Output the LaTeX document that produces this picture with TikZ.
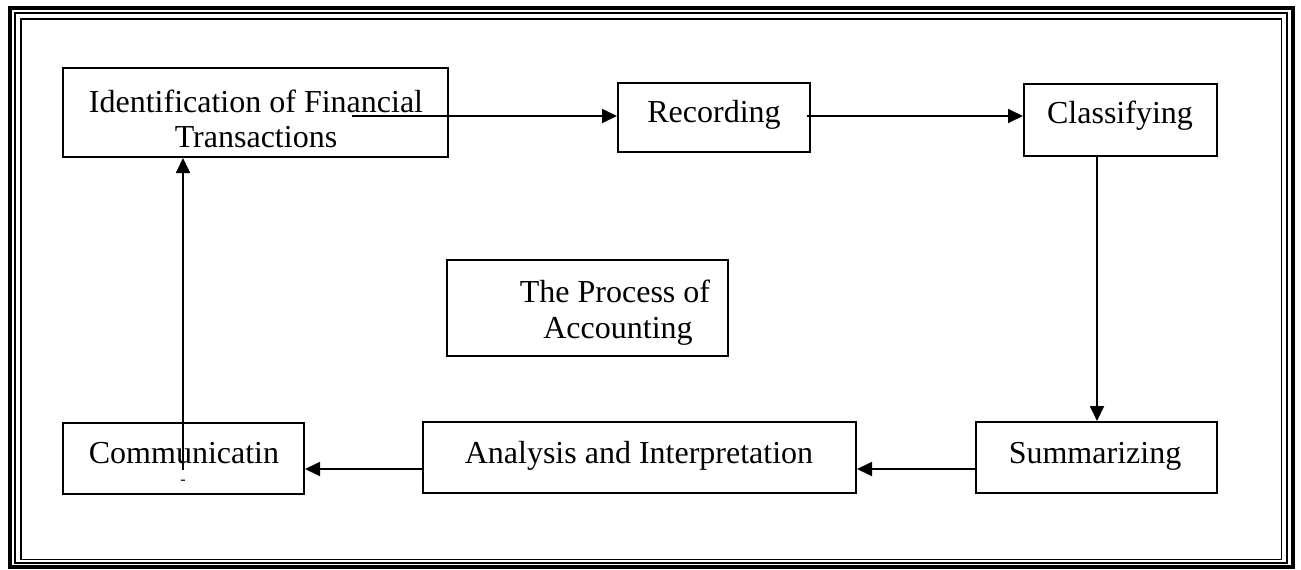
\documentclass[tikz,border=0pt]{standalone}
\usepackage{fontspec}
\setmainfont{Liberation Serif}
\usetikzlibrary{arrows.meta,calc}
\begin{document}
\begin{tikzpicture}[x=0.5pt,y=-0.5pt,
  boxnode/.style={draw=black,line width=1pt,inner sep=0pt,rectangle},
  txt/.style={anchor=base,inner sep=0pt,font=\fontsize{16}{18.4}\selectfont},
  arr/.style={draw=black,line width=0.9pt,-{Triangle[length=7.5pt,width=7pt]}},
  plain/.style={draw=black,line width=0.9pt}]
\useasboundingbox (0,0) rectangle (1301,569);
% triple frame
\draw[line width=2.4pt] (10,8) rectangle (1293,567);
\draw[line width=1pt] (14.5,13) rectangle (1286.5,563);
\draw[line width=0.9pt] (21,19) rectangle (1281.5,559.5);
% boxes
\node[boxnode,minimum width=385*0.5pt,minimum height=89*0.5pt] (id) at (255.5,112.5) {};
\node[txt] (idt1) at (256,112) {Identification of Financial};
\node[txt] (idt2) at (256,147) {Transactions};
\node[boxnode,minimum width=192*0.5pt,minimum height=69*0.5pt] (rec) at (714,117.5) {};
\node[txt] (rect) at (714,122) {Recording};
\node[boxnode,minimum width=193*0.5pt,minimum height=72*0.5pt] (cls) at (1120.5,120) {};
\node[txt] (clst) at (1120,123) {Classifying};
\node[boxnode,minimum width=241*0.5pt,minimum height=71*0.5pt] (sum) at (1096.5,457.5) {};
\node[txt] (sumt) at (1095,463) {Summarizing};
\node[boxnode,minimum width=433*0.5pt,minimum height=71*0.5pt] (ana) at (639.5,457.5) {};
\node[txt] (anat) at (639,463) {Analysis and Interpretation};
\node[boxnode,minimum width=241*0.5pt,minimum height=71*0.5pt] (com) at (183.5,458.5) {};
\node[txt] (comt) at (184,463) {Communicatin};
\node[anchor=center,inner sep=0pt,font=\fontsize{8}{9}\selectfont] (comg) at (183,482) {-};
\node[boxnode,minimum width=281*0.5pt,minimum height=96*0.5pt] (proc) at (587.5,308) {};
\node[txt] (proct1) at (615,302) {The Process of};
\node[txt] (proct2) at (618,338) {Accounting};
% connectors
\coordinate (s1) at (352,116);
\draw[arr] (s1) -- (s1 -| rec.west);
\coordinate (s2) at (807,116);
\draw[arr] (s2) -- (s2 -| cls.west);
\coordinate (s3) at (1097,156);
\draw[arr] (s3) -- (s3 |- sum.north);
\coordinate (s4) at (976,469);
\draw[arr] (s4) -- (s4 -| ana.east);
\coordinate (s5) at (423,469);
\draw[arr] (s5) -- (s5 -| com.east);
\coordinate (s6) at (183,470);
\draw[arr] (s6) -- (s6 |- id.south);
\end{tikzpicture}
\end{document}
